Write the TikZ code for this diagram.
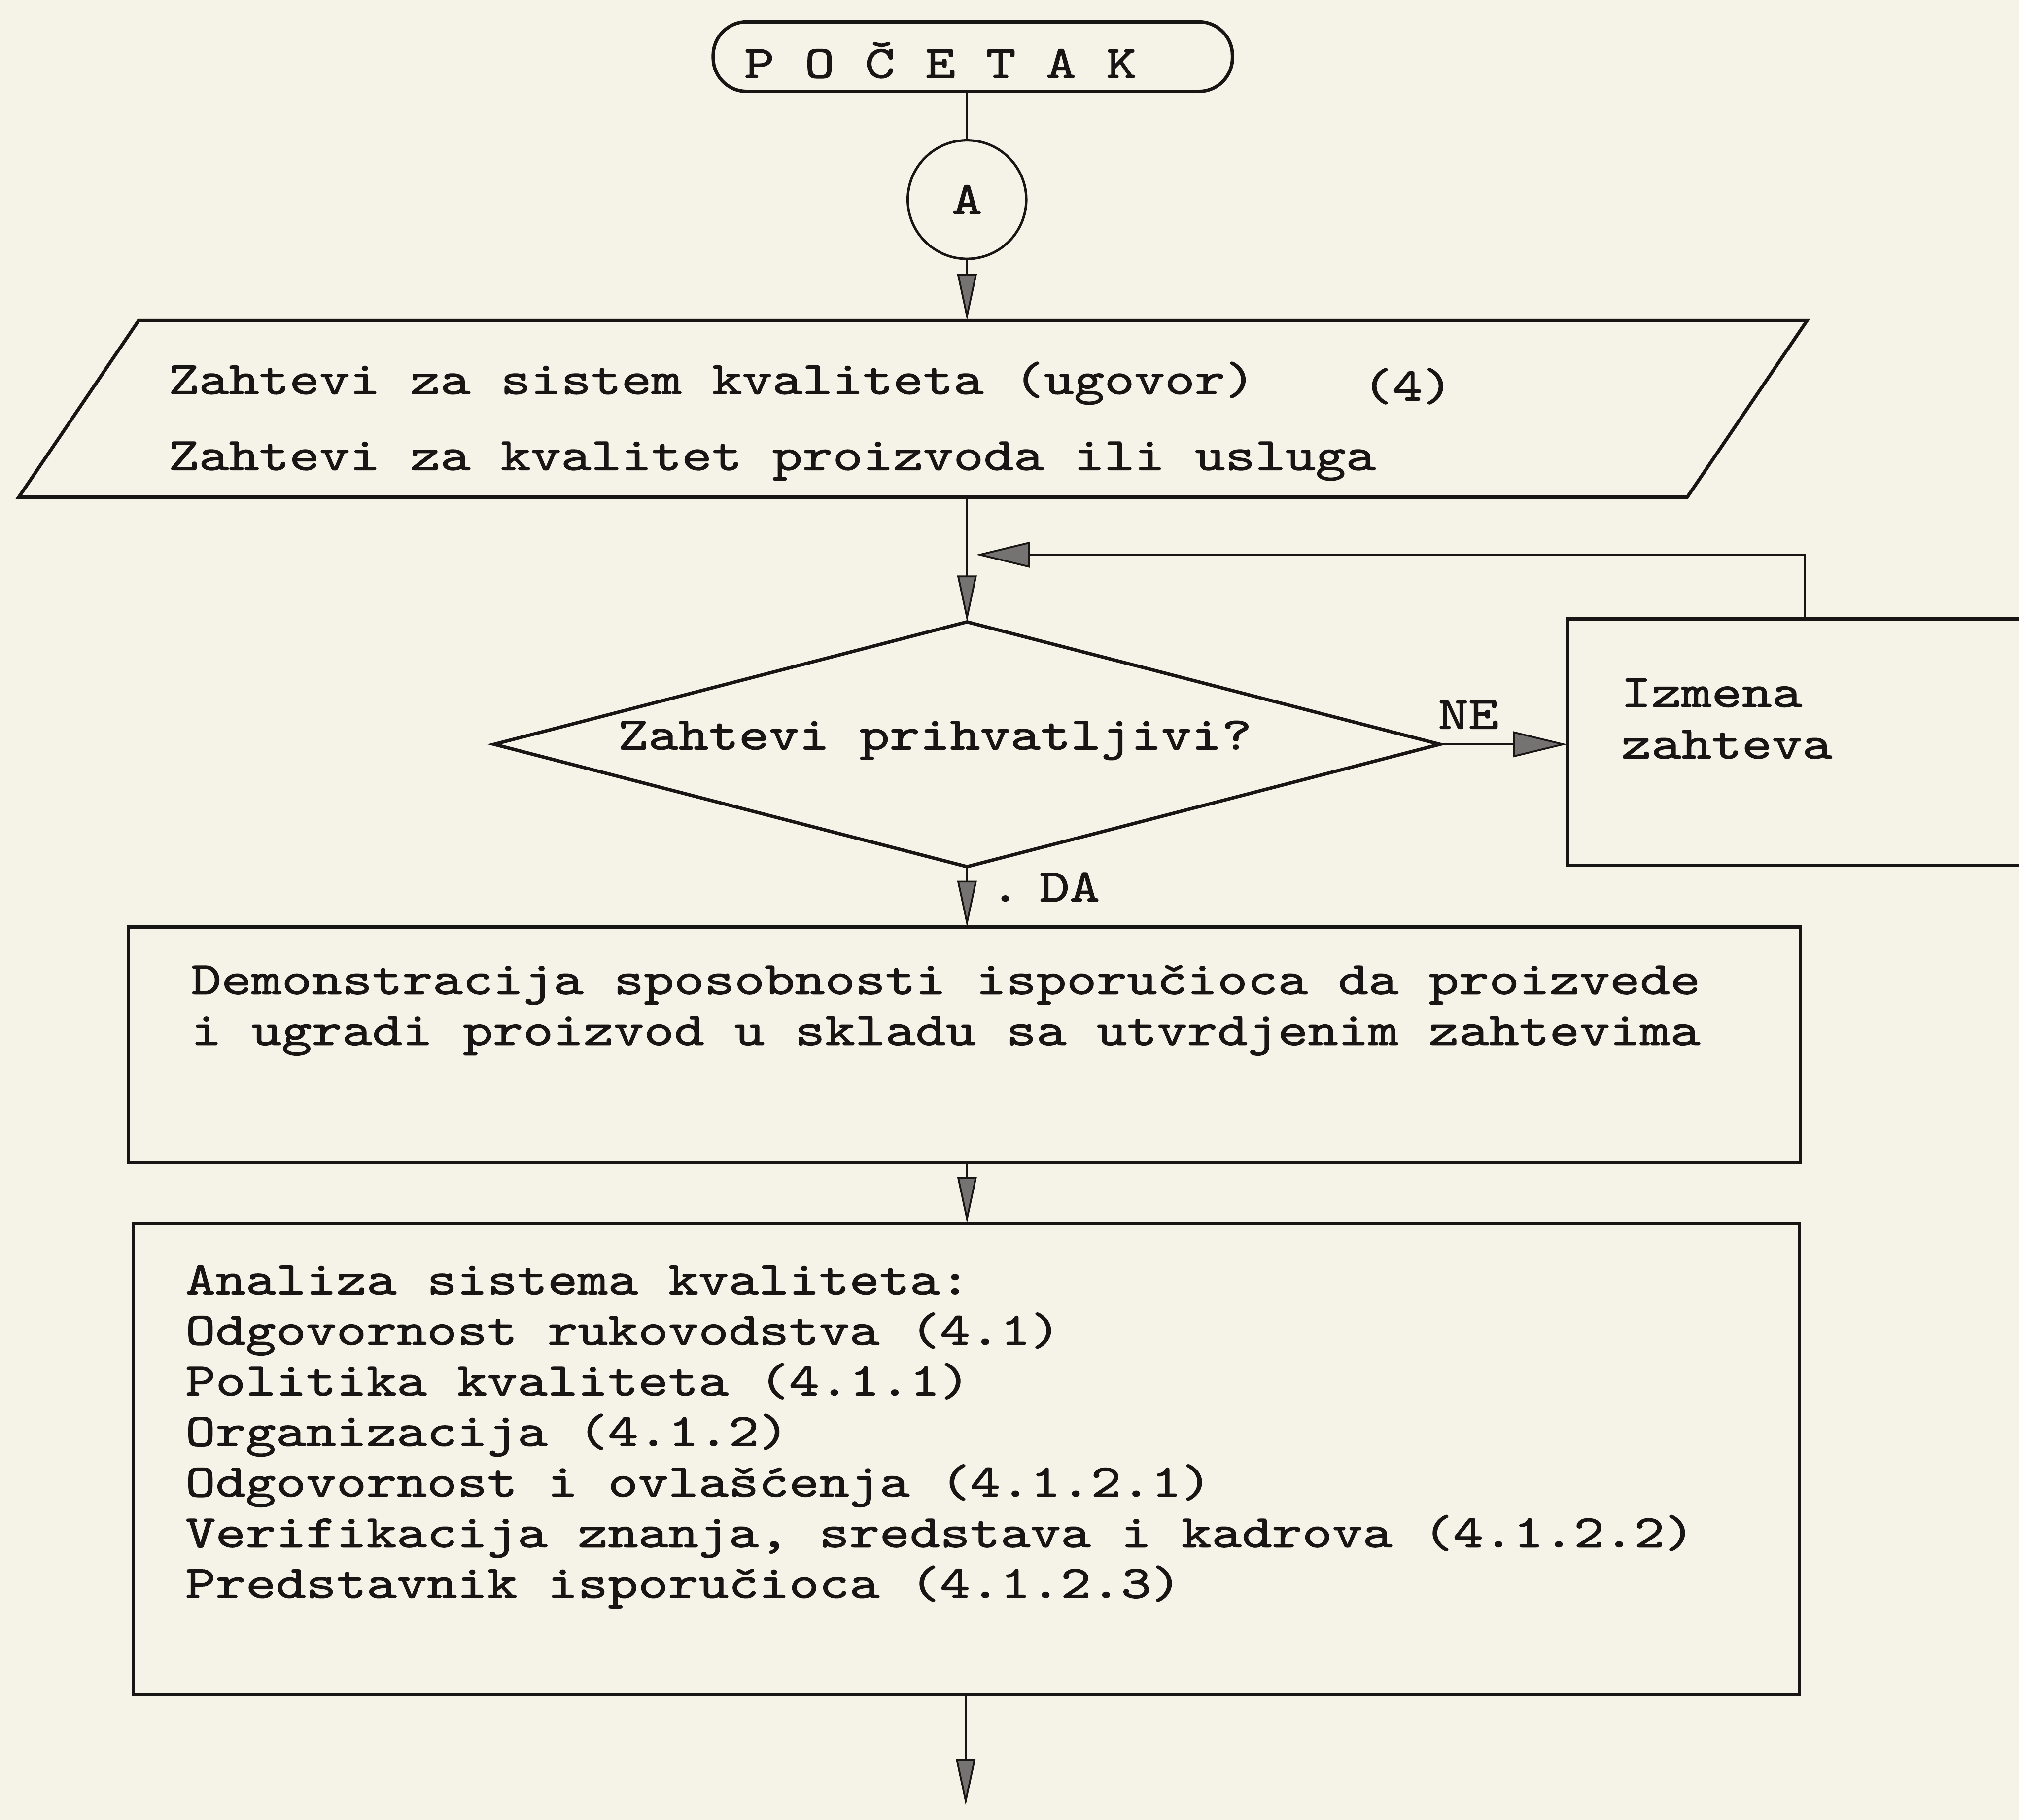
\documentclass[tikz,border=0pt]{standalone}
\usepackage{fontspec}
\usetikzlibrary{arrows.meta,shapes.geometric,calc}
% typewriter face, widened to the pitch of the original typescript
\newfontfamily\tw{lmmono10-regular.otf}[FakeStretch=1.24, FakeBold=1.4]
\definecolor{paper}{RGB}{245,242,231}
\definecolor{ink}{RGB}{24,22,20}

\begin{document}
\begin{tikzpicture}[x=0.01cm, y=-0.01cm,
  every node/.style={inner sep=0pt, outer sep=0pt},
  txt/.style={anchor=base west, font=\tw\fontsize{10.24}{12}\selectfont, text=ink},
  shapeline/.style={draw=ink, line width=0.75pt},
  conn/.style={draw=ink, line width=0.4pt},
  arrowsmall/.style={-{Triangle[length=3.6mm,width=1.5mm,fill=ink!60,line width=0.4pt]}},
  arrowbig/.style={-{Triangle[length=4.2mm,width=2mm,fill=ink!60,line width=0.4pt]}}
]
\fill[paper] (0,0) rectangle (1568,1413);
\useasboundingbox (0,0) rectangle (1568,1413);
\clip (0,0) rectangle (1568,1413);

% start terminal and connector A
\node[shapeline, rounded corners=0.26cm, minimum width=4.03cm, minimum height=0.54cm] (term) at (755.5,44) {};
\node[txt] (termtext) at (578,60.5) {P O Č E T A K};
\node[shapeline, line width=0.55pt, circle, minimum size=0.92cm, font=\tw\fontsize{10.24}{12}\selectfont, text=ink] (conA) at (751,155) {A};
\draw[conn] (conA |- term.south) -- (conA);

% input: requirements
\node[minimum width=12.95cm, minimum height=1.37cm] (inp) at (709,317.5) {};
\draw[shapeline] ([xshift=0.465cm]inp.north west) -- ([xshift=0.465cm]inp.north east)
  -- ([xshift=-0.465cm]inp.south east) -- ([xshift=-0.465cm]inp.south west) -- cycle;
\node[txt] (req1) at (131,306) {Zahtevi za sistem kvaliteta (ugovor)};
\node[txt] (req4) at (1058,311) {(4)};
\node[txt] (req2) at (131,365) {Zahtevi za kvalitet proizvoda ili usluga};
\draw[conn, arrowsmall] (conA) -- (conA |- inp.north);

% decision
\node[shapeline, diamond, minimum width=7.34cm, minimum height=1.90cm] (dec) at (751,578) {};
\node[txt] (dectext) at (480,582) {Zahtevi prihvatljivi?};
\draw[conn, arrowsmall] (inp.south -| conA) -- (dec.north);

% change of requirements, fed back above the decision
\node[shapeline, anchor=north west, minimum width=5cm, minimum height=1.915cm] (chg) at (1217,480.5) {};
\node[txt] (chg1) at (1259,549) {Izmena};
\node[txt] (chg2) at (1259,589) {zahteva};
\draw[conn, arrowbig] (dec.east) -- (dec.east -| chg.west);
\node[txt] (ne) at (1117,566) {NE};
\coordinate (fbjoin) at (758,430.8);
\draw[conn, arrowbig] ([xshift=1.846cm]chg.north west) |- (fbjoin);

% demonstration
\node[shapeline, minimum width=12.98cm, minimum height=1.83cm] (demo) at (749,811.5) {};
\node[txt] (demo1) at (148.5,772) {Demonstracija sposobnosti isporučioca da proizvede};
\node[txt] (demo2) at (148.5,811.5) {i ugradi proizvod u skladu sa utvrdjenim zahtevima};
\draw[conn, arrowsmall] (dec.south) -- (dec.south |- demo.north);
\node[txt] (da) at (769,700) {.\kern0.149cm DA};

% quality system analysis
\node[shapeline, minimum width=12.93cm, minimum height=3.66cm] (ana) at (750.5,1133) {};
\node[txt] (ana1) at (144,1005) {Analiza sistema kvaliteta:};
\node[txt] (ana2) at (144,1044.3) {Odgovornost rukovodstva (4.1)};
\node[txt] (ana3) at (144,1083.6) {Politika kvaliteta (4.1.1)};
\node[txt] (ana4) at (144,1122.9) {Organizacija (4.1.2)};
\node[txt] (ana5) at (144,1162.2) {Odgovornost i ovlašćenja (4.1.2.1)};
\node[txt] (ana6) at (144,1201.5) {Verifikacija znanja, sredstava i kadrova (4.1.2.2)};
\node[txt] (ana7) at (144,1240.8) {Predstavnik isporučioca (4.1.2.3)};
\draw[conn, arrowsmall] (demo.south -| conA) -- (ana.north -| conA);

% continuation downwards
\coordinate (next) at (750,1402);
\draw[conn, arrowsmall] (ana.south -| next) -- (next);
\end{tikzpicture}
\end{document}
